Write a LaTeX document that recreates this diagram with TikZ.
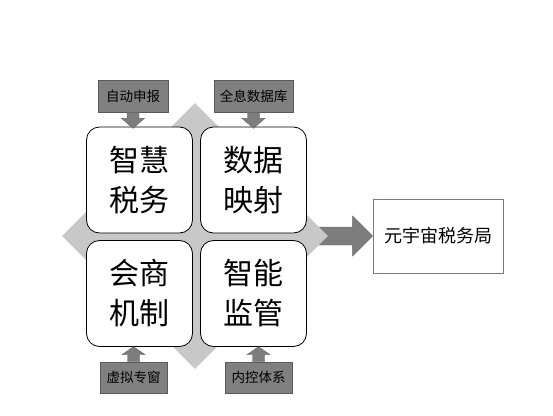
\documentclass[tikz,border=0pt]{standalone}
\usepackage{fontspec}
\usetikzlibrary{calc}
\newfontfamily\cjk{Noto Sans CJK SC}
\definecolor{diag}{RGB}{200,200,200}
\definecolor{tagfill}{RGB}{128,128,128}
\definecolor{tagdraw}{RGB}{90,90,90}
\definecolor{arrfill}{RGB}{125,125,125}
\definecolor{outdraw}{RGB}{120,120,150}
\tikzset{
  bigbox/.style={draw=black, line width=0.8pt, fill=white, rounded corners=13pt,
    minimum width=106pt, minimum height=106pt, inner sep=0pt,
    align=center, font=\cjk\fontsize{30}{40}\selectfont},
  tagbox/.style={draw=tagdraw, line width=0.6pt, fill=tagfill, inner sep=0pt,
    font=\cjk\fontsize{13.5}{15}\selectfont, text=black},
  blockarrow/.style={fill=arrfill, draw=arrfill!80!black, line width=0.4pt},
  outbox/.style={draw=outdraw, line width=0.8pt, fill=white, minimum width=130pt,
    minimum height=74pt, inner sep=0pt, font=\cjk\fontsize{18}{20}\selectfont}
}
\begin{document}
\begin{tikzpicture}[x=1pt,y=-1pt]
\useasboundingbox (0,0) rectangle (553,415);
% big arrow (behind diamond)
\node[outbox] (out) at (438,236) {元宇宙税务局};
\coordinate (aS) at (305,236);
\draw[blockarrow] ($(aS)+(0,-9)$) -- ($(out.west)+(-20,-9)$) -- ($(out.west)+(-20,-20)$) -- (out.west)
  -- ($(out.west)+(-20,20)$) -- ($(out.west)+(-20,9)$) -- ($(aS)+(0,9)$) -- cycle;
% diamond
\node[draw=none, fill=diag, minimum width=188pt, minimum height=188pt, rotate=45, inner sep=0pt] (core) at (195,236) {};
% rounded boxes
\node[bigbox] (tl) at (139.5,180) {智慧\\税务};
\node[bigbox] (tr) at (253.5,180) {数据\\映射};
\node[bigbox] (bl) at (139.5,293.5) {会商\\机制};
\node[bigbox] (br) at (253.5,293.5) {智能\\监管};
% tags
\node[tagbox, minimum width=70pt, minimum height=32pt] (t1) at (133,96) {自动申报};
\node[tagbox, minimum width=79pt, minimum height=32pt] (t2) at (253.5,96) {全息数据库};
\node[tagbox, minimum width=67pt, minimum height=31pt] (t3) at (133.5,377.5) {虚拟专窗};
\node[tagbox, minimum width=67pt, minimum height=31pt] (t4) at (258.5,377.5) {内控体系};
% small down arrows
\foreach \t in {t1,t2}{
  \draw[blockarrow] ($(\t.south)+(-6,0)$) -- ($(\t.south)+(-6,6)$) -- ($(\t.south)+(-11.5,6)$)
    -- ($(\t.south)+(0,16)$) -- ($(\t.south)+(11.5,6)$) -- ($(\t.south)+(6,6)$) -- ($(\t.south)+(6,0)$) -- cycle;
}
% small up arrows
\foreach \t in {t3,t4}{
  \draw[blockarrow] ($(\t.north)+(-6,0)$) -- ($(\t.north)+(-6,-7)$) -- ($(\t.north)+(-11.5,-7)$)
    -- ($(\t.north)+(0,-15)$) -- ($(\t.north)+(11.5,-7)$) -- ($(\t.north)+(6,-7)$) -- ($(\t.north)+(6,0)$) -- cycle;
}
\end{tikzpicture}
\end{document}
